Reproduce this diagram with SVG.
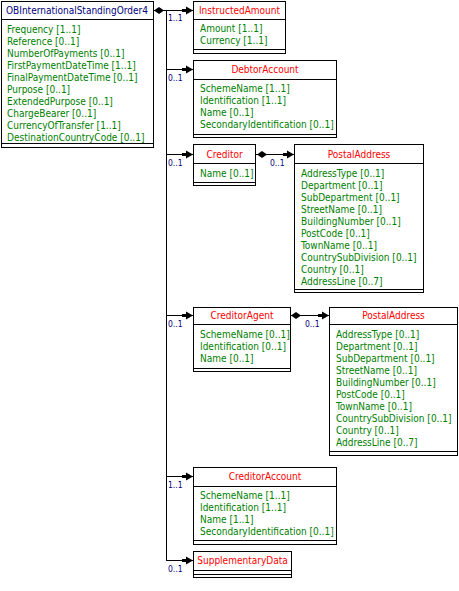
<svg xmlns="http://www.w3.org/2000/svg" width="459" height="591" viewBox="0 0 459 591">
<style>
.box{fill:#fff;stroke:#000;stroke-width:1}
.ln{stroke:#000;stroke-width:1;fill:none}
.t{font-family:"DejaVu Sans Condensed","DejaVu Sans",sans-serif;font-size:10px}
.main{fill:#000080}
.hd{fill:#ff0000;text-anchor:middle}
.at{fill:#008000}
.m{font-family:"DejaVu Sans Condensed","DejaVu Sans",sans-serif;font-size:8.5px;fill:#000080}
</style>
<defs>
<path id="arr" d="M-11,-1.5 L-7,-1.5 L-7,-4 L0,0 L-7,4 L-7,1.5 L-11,1.5 Z" fill="#000"/>
<path id="dia" d="M0,0 L5,-3.5 L10,0 L5,3.5 Z" fill="#000"/>
</defs>
<rect width="459" height="591" fill="#fff"/>
<g id="connectors">
<line class="ln" x1="153" y1="10.5" x2="193" y2="10.5"/>
<use href="#dia" x="154" y="10.5"/>
<use href="#arr" x="193" y="10.5"/>
<line class="ln" x1="166.5" y1="10.5" x2="166.5" y2="560.5"/>
<line class="ln" x1="166" y1="69.5" x2="193" y2="69.5"/>
<use href="#arr" x="193" y="69.5"/>
<line class="ln" x1="166" y1="154.5" x2="193" y2="154.5"/>
<use href="#arr" x="193" y="154.5"/>
<line class="ln" x1="166" y1="315.5" x2="193" y2="315.5"/>
<use href="#arr" x="193" y="315.5"/>
<line class="ln" x1="166" y1="476.5" x2="193" y2="476.5"/>
<use href="#arr" x="193" y="476.5"/>
<line class="ln" x1="166" y1="560.5" x2="193" y2="560.5"/>
<use href="#arr" x="193" y="560.5"/>
<line class="ln" x1="256" y1="154.5" x2="294" y2="154.5"/>
<use href="#dia" x="257" y="154.5"/>
<use href="#arr" x="294" y="154.5"/>
<line class="ln" x1="290" y1="315.5" x2="329" y2="315.5"/>
<use href="#dia" x="291" y="315.5"/>
<use href="#arr" x="329" y="315.5"/>
<text class="m" x="168" y="21">1..1</text>
<text class="m" x="168" y="81">0..1</text>
<text class="m" x="168" y="166">0..1</text>
<text class="m" x="270" y="166">0..1</text>
<text class="m" x="168" y="327">0..1</text>
<text class="m" x="305" y="327">0..1</text>
<text class="m" x="168" y="488">1..1</text>
<text class="m" x="168" y="572">0..1</text>
</g>
<g id="OBInternationalStandingOrder4">
<rect class="box" x="1.5" y="1.5" width="152" height="146"/>
<line class="ln" x1="1.5" y1="19.5" x2="153.5" y2="19.5"/>
<line class="ln" x1="1.5" y1="143.5" x2="153.5" y2="143.5"/>
<text class="t main" x="6" y="14">OBInternationalStandingOrder4</text>
<text class="t at" x="7" y="33">Frequency [1..1]</text>
<text class="t at" x="7" y="45">Reference [0..1]</text>
<text class="t at" x="7" y="57">NumberOfPayments [0..1]</text>
<text class="t at" x="7" y="69">FirstPaymentDateTime [1..1]</text>
<text class="t at" x="7" y="81">FinalPaymentDateTime [0..1]</text>
<text class="t at" x="7" y="93">Purpose [0..1]</text>
<text class="t at" x="7" y="105">ExtendedPurpose [0..1]</text>
<text class="t at" x="7" y="117">ChargeBearer [0..1]</text>
<text class="t at" x="7" y="129">CurrencyOfTransfer [1..1]</text>
<text class="t at" x="7" y="141">DestinationCountryCode [0..1]</text>
</g>
<g id="InstructedAmount">
<rect class="box" x="193.5" y="1.5" width="92" height="52"/>
<line class="ln" x1="193.5" y1="19.5" x2="285.5" y2="19.5"/>
<line class="ln" x1="193.5" y1="49.5" x2="285.5" y2="49.5"/>
<text class="t hd" x="239.5" y="14">InstructedAmount</text>
<text class="t at" x="200" y="32">Amount [1..1]</text>
<text class="t at" x="200" y="44">Currency [1..1]</text>
</g>
<g id="DebtorAccount">
<rect class="box" x="193.5" y="60.5" width="143" height="77"/>
<line class="ln" x1="193.5" y1="79.5" x2="336.5" y2="79.5"/>
<line class="ln" x1="193.5" y1="134.5" x2="336.5" y2="134.5"/>
<text class="t hd" x="265" y="73">DebtorAccount</text>
<text class="t at" x="200" y="92">SchemeName [1..1]</text>
<text class="t at" x="200" y="104">Identification [1..1]</text>
<text class="t at" x="200" y="116">Name [0..1]</text>
<text class="t at" x="200" y="128">SecondaryIdentification [0..1]</text>
</g>
<g id="Creditor">
<rect class="box" x="193.5" y="144.5" width="62" height="41"/>
<line class="ln" x1="193.5" y1="163.5" x2="255.5" y2="163.5"/>
<line class="ln" x1="193.5" y1="182.5" x2="255.5" y2="182.5"/>
<text class="t hd" x="224.5" y="158">Creditor</text>
<text class="t at" x="200" y="177">Name [0..1]</text>
</g>
<g id="CreditorPostalAddress">
<rect class="box" x="294.5" y="144.5" width="129" height="148"/>
<line class="ln" x1="294.5" y1="163.5" x2="423.5" y2="163.5"/>
<line class="ln" x1="294.5" y1="289.5" x2="423.5" y2="289.5"/>
<text class="t hd" x="359" y="158">PostalAddress</text>
<text class="t at" x="301" y="177">AddressType [0..1]</text>
<text class="t at" x="301" y="189">Department [0..1]</text>
<text class="t at" x="301" y="201">SubDepartment [0..1]</text>
<text class="t at" x="301" y="213">StreetName [0..1]</text>
<text class="t at" x="301" y="225">BuildingNumber [0..1]</text>
<text class="t at" x="301" y="237">PostCode [0..1]</text>
<text class="t at" x="301" y="249">TownName [0..1]</text>
<text class="t at" x="301" y="261">CountrySubDivision [0..1]</text>
<text class="t at" x="301" y="273">Country [0..1]</text>
<text class="t at" x="301" y="285">AddressLine [0..7]</text>
</g>
<g id="CreditorAgent">
<rect class="box" x="193.5" y="307.5" width="97" height="64"/>
<line class="ln" x1="193.5" y1="324.5" x2="290.5" y2="324.5"/>
<line class="ln" x1="193.5" y1="368.5" x2="290.5" y2="368.5"/>
<text class="t hd" x="242" y="319">CreditorAgent</text>
<text class="t at" x="200" y="338">SchemeName [0..1]</text>
<text class="t at" x="200" y="350">Identification [0..1]</text>
<text class="t at" x="200" y="362">Name [0..1]</text>
</g>
<g id="CreditorAgentPostalAddress">
<rect class="box" x="329.5" y="307.5" width="128" height="148"/>
<line class="ln" x1="329.5" y1="324.5" x2="457.5" y2="324.5"/>
<line class="ln" x1="329.5" y1="451.5" x2="457.5" y2="451.5"/>
<text class="t hd" x="393.5" y="319">PostalAddress</text>
<text class="t at" x="336" y="338">AddressType [0..1]</text>
<text class="t at" x="336" y="350">Department [0..1]</text>
<text class="t at" x="336" y="362">SubDepartment [0..1]</text>
<text class="t at" x="336" y="374">StreetName [0..1]</text>
<text class="t at" x="336" y="386">BuildingNumber [0..1]</text>
<text class="t at" x="336" y="398">PostCode [0..1]</text>
<text class="t at" x="336" y="410">TownName [0..1]</text>
<text class="t at" x="336" y="422">CountrySubDivision [0..1]</text>
<text class="t at" x="336" y="434">Country [0..1]</text>
<text class="t at" x="336" y="446">AddressLine [0..7]</text>
</g>
<g id="CreditorAccount">
<rect class="box" x="193.5" y="467.5" width="143" height="77"/>
<line class="ln" x1="193.5" y1="486.5" x2="336.5" y2="486.5"/>
<line class="ln" x1="193.5" y1="540.5" x2="336.5" y2="540.5"/>
<text class="t hd" x="265" y="480">CreditorAccount</text>
<text class="t at" x="200" y="499">SchemeName [1..1]</text>
<text class="t at" x="200" y="511">Identification [1..1]</text>
<text class="t at" x="200" y="523">Name [1..1]</text>
<text class="t at" x="200" y="535">SecondaryIdentification [0..1]</text>
</g>
<g id="SupplementaryData">
<rect class="box" x="193.5" y="551.5" width="98" height="26"/>
<line class="ln" x1="193.5" y1="570.5" x2="291.5" y2="570.5"/>
<line class="ln" x1="193.5" y1="574.5" x2="291.5" y2="574.5"/>
<text class="t hd" x="242.5" y="564">SupplementaryData</text>
</g>
</svg>
